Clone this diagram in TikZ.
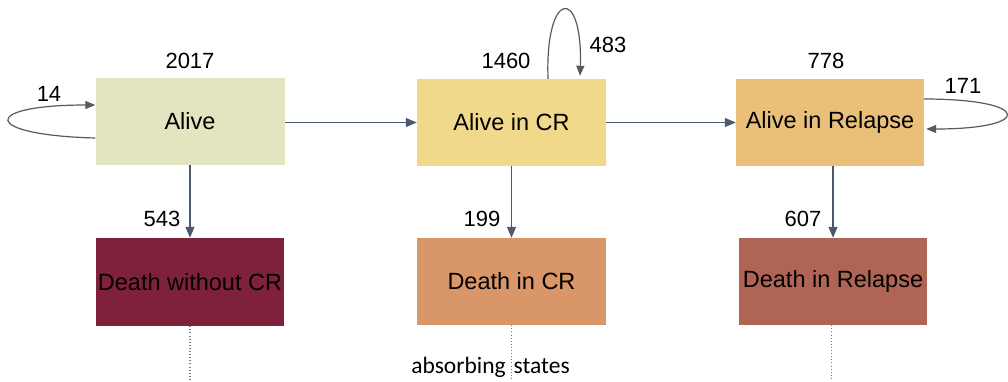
\documentclass[tikz,border=0pt]{standalone}
\usepackage{fontspec}
\setmainfont{Liberation Sans}
\newfontfamily\carlito{Carlito}
\usetikzlibrary{arrows.meta}
\definecolor{cAlive}{HTML}{E3E5C1}
\definecolor{cCR}{HTML}{F0D98B}
\definecolor{cRel}{HTML}{EABF7A}
\definecolor{cDwcr}{HTML}{80213C}
\definecolor{cDcr}{HTML}{D99769}
\definecolor{cDrel}{HTML}{B06456}
\definecolor{cArrow}{HTML}{4B5A71}
\definecolor{cLoop}{HTML}{5A5A5A}
\definecolor{cDot}{HTML}{6A7A95}
\tikzset{
  statebox/.style={draw=none, minimum width=188pt, minimum height=87pt, inner sep=0pt,
    font=\fontsize{23.5}{27}\selectfont, text=black},
  numlabel/.style={font=\fontsize{22}{26}\selectfont, inner sep=0pt},
  flow/.style={draw=cArrow, line width=1.3pt, -{Triangle[length=11pt,width=9pt]}},
  loopline/.style={draw=cLoop, line width=1.2pt, -{Triangle[length=10pt,width=8pt]}},
  dotline/.style={draw=cDot, line width=1.1pt, dash pattern=on 0.9pt off 2.2pt}
}
\begin{document}
\begin{tikzpicture}[x=1pt,y=-1pt]
\useasboundingbox[fill=white] (0,0) rectangle (1008,381);
% boxes
\node[statebox, fill=cAlive, minimum width=189pt] (alive) at (190,121.5) {Alive};
\node[statebox, fill=cCR, minimum width=189pt] (cr) at (511.5,122.5) {Alive in CR};
\node[statebox, fill=cRel] (rel) at (830,122.5) {Alive in Relapse};
\node[statebox, fill=cDwcr, minimum height=88pt] (dwcr) at (190,282) {Death without CR};
\node[statebox, fill=cDcr, minimum width=189pt] (dcr) at (511.5,281.5) {Death in CR};
\node[statebox, fill=cDrel] (drel) at (833,281.5) {Death in Relapse};
% numbers
\node[numlabel] (n2017) at (190,61) {2017};
\node[numlabel] (n1460) at (506,61) {1460};
\node[numlabel] (n483) at (608,45) {483};
\node[numlabel] (n778) at (826,61) {778};
\node[numlabel] (n171) at (963,86) {171};
\node[numlabel] (n14) at (49,94) {14};
\node[numlabel] (n543) at (162,219) {543};
\node[numlabel] (n199) at (482,219) {199};
\node[numlabel] (n607) at (803,219) {607};
\node[font=\carlito\fontsize{23.5}{27}\selectfont, inner sep=0pt] (abs) at (490.5,367) {absorbing\hspace{8pt}states};
% flows
\draw[flow] (alive.east |- cr.west) -- (cr.west);
\draw[flow] (cr.east) -- (rel.west);
\draw[flow] (alive.south) -- (dwcr.north);
\draw[flow] (cr.south) -- (dcr.north);
\draw[flow] (rel.south -| drel.north) -- (drel.north);
% self loops
\draw[loopline] ([yshift=-16.5pt]alive.west) .. controls +(-115,-3) and +(-115,0) .. ([yshift=16.5pt]alive.west);
\draw[loopline] ([xshift=36.5pt]cr.north) .. controls +(-3,-90) and +(3,-90) .. ([xshift=68.5pt,yshift=3pt]cr.north);
\draw[loopline] ([yshift=23.5pt]rel.east) .. controls +(108,0) and +(108,0) .. ([yshift=-6.5pt,xshift=2pt]rel.east);
% dotted lines
\coordinate (e1) at (190,381);
\coordinate (e2) at (511.5,381);
\coordinate (e3) at (831.5,381);
\draw[dotline] (dwcr.south) -- (e1);
\draw[dotline] (dcr.south) -- (e2);
\draw[dotline] (drel.south -| e3) -- (e3);
\end{tikzpicture}
\end{document}
